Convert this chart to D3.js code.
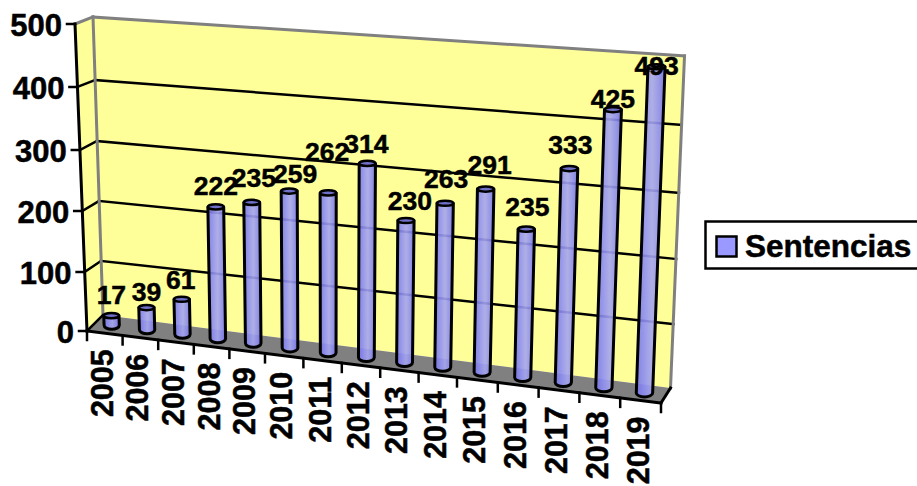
<!DOCTYPE html>
<html><head><meta charset="utf-8">
<script src="https://cdn.jsdelivr.net/npm/d3@7"></script>
<style>html,body{margin:0;background:#fff}svg{display:block}text{font-family:"Liberation Sans",Arial,sans-serif;font-weight:bold;fill:#000;stroke:#000;stroke-width:.5px}</style>
</head><body><svg id="c" width="917" height="486"></svg>
<script>
const categories=["2005","2006","2007","2008","2009","2010","2011","2012","2013","2014","2015","2016","2017","2018","2019"];
const sentencias=[17,39,61,222,235,259,262,314,230,263,291,235,333,425,493];
const seriesName="Sentencias";
const valueTicks=[0,100,200,300,400,500];
// Vertical extent of the value axis on the front-left edge, back wall and bar plane (perspective)
const frontHeight=[0,59,120,181,244,307];
const backLeftHeight=[0,54,114,174,235,298];
const backRightHeight=[0,64,129,195,263,332];
const planeLeftHeight=[0,56,115,175,237,299];
const planeRightHeight=[0,64,129,195,264,332];
// Hand nudges for data labels above the bar top (as in the reference)
const labelLift=[21,16,19,21,24,17,41,19,20,24,24,22,24,11,1];
const labelShift=[0,0,-1,0,2,6,-1,-1,4,1,4,1,1,0,0];

const svg=d3.select("#c");
const defs=svg.append("defs");
const g=defs.append("linearGradient").attr("id","cyl");
[[0,"#7474e6"],[.3,"#9090f4"],[.55,"#a6a6ee"],[.8,"#8c8cf0"],[1,"#7070dc"]].forEach(([o,c])=>g.append("stop").attr("offset",o).attr("stop-color",c));

const catX=d3.scaleLinear().domain([0,5,10,15]).range([87,265,457,661]);
const frontY=d3.scaleLinear().domain([87,661]).range([331,403]);
const hFront=d3.scaleLinear().domain(valueTicks).range(frontHeight);
const hBackL=d3.scaleLinear().domain(valueTicks).range(backLeftHeight);
const hBackR=d3.scaleLinear().domain(valueTicks).range(backRightHeight);
const hPlaneL=d3.scaleLinear().domain(valueTicks).range(planeLeftHeight);
const hPlaneR=d3.scaleLinear().domain(valueTicks).range(planeRightHeight);
const nCat=categories.length;
const uOf=c=>c/nCat;
const depthDX=d3.scaleLinear().domain([0,1]).range([16,9.5]);
const depthDY=d3.scaleLinear().domain([0,1]).range([-16,-15]);
const leanX=d3.scaleLinear().domain([0,1]).range([-10,14]);
const barLean=d3.scaleLinear().domain([0,1]).range([-10,13]);
const fx=c=>catX(c), fy=c=>frontY(catX(c));

const floorPt=(c,d)=>[fx(c)+depthDX(uOf(c))*d, fy(c)+depthDY(uOf(c))*d];
const backWall=(c,v)=>{
  const u=uOf(c),[x,y]=floorPt(c,1);
  const h=d3.interpolateNumber(hBackL(v),hBackR(v))(u);
  return [x+leanX(u)*v/500,y-h];
};
const frontLeft=v=>[catX(0)-12*v/500,frontY(catX(0))-hFront(v)];
const barPt=(c,v)=>{
  const u=uOf(c),[x,y]=floorPt(c,.5);
  const h=d3.interpolateNumber(hPlaneL(v),hPlaneR(v))(u);
  return [x-1+barLean(u)*v/500,y-h];
};
const poly=pts=>"M"+pts.map(p=>p.join(",")).join("L")+"Z";
const line=(a,b,col,w)=>svg.append("line").attr("x1",a[0]).attr("y1",a[1]).attr("x2",b[0]).attr("y2",b[1]).attr("stroke",col).attr("stroke-width",w).attr("stroke-linecap","square");

svg.append("path").attr("fill","#ffff99").attr("d",poly([frontLeft(500),backWall(0,500),backWall(0,0),frontLeft(0)]));
svg.append("path").attr("fill","#ffff99").attr("d",poly([backWall(0,500),backWall(nCat,500),backWall(nCat,0),backWall(0,0)]));
svg.append("path").attr("fill","#808080").attr("d",poly([floorPt(0,0),floorPt(0,1),floorPt(nCat,1),floorPt(nCat,0)]));

valueTicks.slice(1,-1).forEach(v=>{
  line(frontLeft(v),backWall(0,v),"#000",2.5);
  line(backWall(0,v),backWall(nCat,v),"#000",2.5);
});
line(frontLeft(500),backWall(0,500),"#808080",3);
line(backWall(0,500),backWall(nCat,500),"#808080",3);
line(backWall(0,500),backWall(0,0),"#808080",3);
line(backWall(nCat,500),backWall(nCat,0),"#808080",3);

line(frontLeft(500),frontLeft(0),"#000",3);
line(floorPt(0,0),floorPt(nCat,0),"#000",3);
line(floorPt(nCat,0),floorPt(nCat,1),"#000",3);
line(floorPt(0,0),floorPt(0,1),"#000",2.5);
valueTicks.forEach(v=>{
  const p=frontLeft(v);
  line([p[0]-8,p[1]],p,"#000",2.5);
  svg.append("text").attr("x",p[0]-13).attr("y",p[1]+1).attr("text-anchor","end").attr("dominant-baseline","central").attr("font-size",31).text(v);
});
d3.range(nCat+1).forEach(c=>{
  const p=floorPt(c,0);
  line(p,[p[0],p[1]+9],"#000",2.5);
});
categories.forEach((t,i)=>{
  const p=floorPt(i+.5,0);
  svg.append("text").attr("transform",`translate(${p[0]-3},${p[1]+16}) rotate(-90)`).attr("text-anchor","end").attr("dominant-baseline","central").attr("font-size",30.5).text(t);
});

const hw=d3.scaleLinear().domain([0,1]).range([7.6,8.2]);
sentencias.forEach((v,i)=>{
  const c=i+.5,u=uOf(c),b=barPt(c,0),t=barPt(c,v),w=hw(u);
  const tw=w+.4*v/500;
  svg.append("path").attr("fill","url(#cyl)").attr("fill-opacity",.9).attr("stroke","#000").attr("stroke-width",3).attr("stroke-linejoin","round")
    .attr("d",`M${t[0]-tw},${t[1]}L${b[0]-w},${b[1]}A${w},4 0 0 0 ${b[0]+w},${b[1]}L${t[0]+tw},${t[1]}Z`);
  svg.append("ellipse").attr("cx",t[0]).attr("cy",t[1]).attr("rx",tw).attr("ry",2.6).attr("fill","#6f6fc8").attr("stroke","#000").attr("stroke-width",2.5);
});
sentencias.forEach((v,i)=>{
  const t=barPt(i+.5,v);
  svg.append("text").attr("x",t[0]+labelShift[i]).attr("y",t[1]-labelLift[i]).attr("text-anchor","middle").attr("dominant-baseline","central").attr("font-size",26.5).text(v);
});

svg.append("rect").attr("x",705.5).attr("y",221.5).attr("width",240).attr("height",47).attr("fill","#fff").attr("stroke","#000").attr("stroke-width",2.5);
svg.append("rect").attr("x",716.5).attr("y",236.5).attr("width",20).attr("height",20).attr("fill","#9999ff").attr("stroke","#000").attr("stroke-width",2.5);
svg.append("text").attr("x",745).attr("y",246).attr("dominant-baseline","central").attr("font-size",31.5).text(seriesName);
</script></body></html>
